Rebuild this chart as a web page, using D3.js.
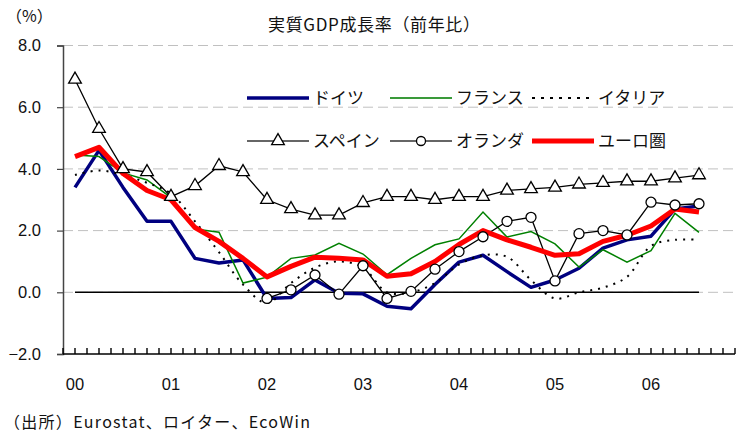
<!DOCTYPE html>
<head>
  <meta charset="utf-8">
  <script src="https://d3js.org/d3.v7.min.js"></script>
  <style>
    body { margin:0; background:#fff; }
    text { font-family: "Noto Sans CJK JP", "Liberation Sans", sans-serif; fill:#111; }
    .num { font-family: "Liberation Sans", Arial, sans-serif; }
  </style>
</head>
<body>
<script>
  // quarterly, 2000Q1 .. 2006Q3
  var yearLabels = ["00", "01", "02", "03", "04", "05", "06"];
  var yTicks = [-2, 0, 2, 4, 6, 8];

  var germany = [3.4, 4.6, 3.4, 2.3, 2.3, 1.1, 0.95, 1.05, -0.2, -0.17, 0.4, -0.03, -0.05, -0.45, -0.53, 0.25, 0.98, 1.2, 0.67, 0.16, 0.4, 0.78, 1.43, 1.7, 1.82, 2.7, 2.8];
  var france = [4.45, 4.4, 3.87, 3.64, 3.07, 2.05, 1.95, 0.3, 0.49, 1.1, 1.21, 1.59, 1.24, 0.57, 1.1, 1.54, 1.73, 2.6, 1.79, 1.97, 1.57, 0.82, 1.38, 0.98, 1.35, 2.56, 1.94];
  var italy = [3.8, 3.95, 3.8, 3.55, 3.2, 2.3, 1.3, 0.25, -0.35, 0.3, 0.8, 1.0, 0.8, 0.0, 0.0, 0.3, 0.9, 1.2, 1.15, 0.4, -0.2, 0.0, 0.15, 0.5, 1.5, 1.7, 1.7];
  var spain = [6.9, 5.3, 4.0, 3.9, 3.1, 3.45, 4.1, 3.9, 3.0, 2.7, 2.5, 2.5, 2.9, 3.1, 3.1, 3.0, 3.1, 3.1, 3.3, 3.35, 3.4, 3.5, 3.55, 3.6, 3.6, 3.7, 3.8];
  var netherlands = [null, null, null, null, null, null, null, null, -0.2, 0.08, 0.56, -0.06, 0.86, -0.2, 0.03, 0.75, 1.32, 1.8, 2.3, 2.43, 0.37, 1.9, 2.0, 1.86, 2.92, 2.83, 2.87];
  var euro = [4.4, 4.7, 3.85, 3.3, 3.0, 2.1, 1.65, 1.1, 0.5, 0.84, 1.14, 1.1, 1.05, 0.52, 0.6, 1.0, 1.55, 2.0, 1.7, 1.46, 1.2, 1.25, 1.65, 1.85, 2.15, 2.7, 2.6];

  var width = 736, height = 434;
  var svg = d3.select("body").append("svg")
    .attr("width", width).attr("height", height);

  var x = d3.scaleLinear().domain([-0.5, 27.5]).range([63, 735]);
  var y = d3.scaleLinear().domain([-2, 8]).range([354, 45.5]);

  // gridlines
  svg.selectAll(".grid").data(yTicks.slice(1)).enter().append("line")
    .attr("x1", 63).attr("x2", 735)
    .attr("y1", function(d) { return y(d); }).attr("y2", function(d) { return y(d); })
    .attr("stroke", "#c0c0c0").attr("stroke-width", 1).attr("stroke-dasharray", "10,5");

  // zero line across the data
  svg.append("line")
    .attr("x1", x(0)).attr("x2", x(26))
    .attr("y1", y(0)).attr("y2", y(0))
    .attr("stroke", "#000").attr("stroke-width", 1.5);

  // y axis
  var yAxis = d3.axisLeft(y).tickValues(yTicks).tickSize(6)
    .tickFormat(function(d) { return d < 0 ? "\u2212" + Math.abs(d).toFixed(1) : d.toFixed(1); });
  var ya = svg.append("g").attr("transform", "translate(63,0)").call(yAxis);
  ya.select(".domain").attr("stroke", "#444").attr("stroke-width", 1.5);
  ya.selectAll(".tick line").attr("stroke", "#444").attr("stroke-width", 1.2);
  ya.selectAll("text").attr("class", "num").attr("x", -22)
    .style("font-size", "16.5px").style("font-family", "'Liberation Sans', Arial, sans-serif").attr("fill", "#111");

  // x axis: tick every half quarter (pointing up), labels at Q1
  var xTicks = d3.range(-0.5, 27.51, 0.5);
  svg.append("line")
    .attr("x1", 63).attr("x2", 735).attr("y1", y(-2)).attr("y2", y(-2))
    .attr("stroke", "#000").attr("stroke-width", 1.5);
  svg.selectAll(".xt").data(xTicks).enter().append("line")
    .attr("x1", function(d) { return x(d); })
    .attr("x2", function(d) { return x(d); })
    .attr("y1", y(-2)).attr("y2", y(-2) - 6)
    .attr("stroke", "#000").attr("stroke-width", 1.4);

  svg.selectAll(".xl").data(yearLabels).enter().append("text")
    .attr("class", "num")
    .attr("x", function(d, i) { return x(i * 4); })
    .attr("y", 390)
    .attr("text-anchor", "middle")
    .style("font-size", "16.5px")
    .text(function(d) { return d; });

  // series lines
  function pts(arr) {
    return arr.map(function(v, i) { return [i, v]; });
  }
  var line = d3.line()
    .defined(function(d) { return d[1] != null; })
    .x(function(d) { return x(d[0]); })
    .y(function(d) { return y(d[1]); });
  var smooth = d3.line()
    .curve(d3.curveCatmullRom.alpha(0.5))
    .x(function(d) { return x(d[0]); })
    .y(function(d) { return y(d[1]); });

  svg.append("path").attr("d", line(pts(germany)))
    .attr("fill", "none").attr("stroke", "#000080").attr("stroke-width", 3.5).attr("stroke-linejoin", "round");
  svg.append("path").attr("d", line(pts(france)))
    .attr("fill", "none").attr("stroke", "#008000").attr("stroke-width", 1.5);
  svg.append("path").attr("d", smooth(pts(italy)))
    .attr("fill", "none").attr("stroke", "#000").attr("stroke-width", 2).attr("stroke-dasharray", "2,6");
  svg.append("path").attr("d", line(pts(spain)))
    .attr("fill", "none").attr("stroke", "#000").attr("stroke-width", 1.3);
  svg.append("path").attr("d", line(pts(netherlands)))
    .attr("fill", "none").attr("stroke", "#000").attr("stroke-width", 1.3);
  svg.append("path").attr("d", line(pts(euro)))
    .attr("fill", "none").attr("stroke", "#ff0000").attr("stroke-width", 5).attr("stroke-linejoin", "round");

  // markers
  var tri = d3.symbol().type(d3.symbolTriangle).size(70);
  svg.selectAll(".tri").data(pts(spain)).enter().append("path")
    .attr("d", tri)
    .attr("transform", function(d) { return "translate(" + x(d[0]) + "," + y(d[1]) + ")"; })
    .attr("fill", "#fff").attr("stroke", "#000").attr("stroke-width", 1.3);
  svg.selectAll(".circ").data(pts(netherlands).filter(function(d) { return d[1] != null; })).enter().append("circle")
    .attr("cx", function(d) { return x(d[0]); })
    .attr("cy", function(d) { return y(d[1]); })
    .attr("r", 5)
    .attr("fill", "#fff").attr("stroke", "#000").attr("stroke-width", 1.3);

  // legend
  var legend = [
    { name: "ドイツ", x: 247, y: 98, color: "#000080", w: 3.5 },
    { name: "フランス", x: 390, y: 98, color: "#3a9a3a", w: 2 },
    { name: "イタリア", x: 532, y: 98, color: "#000", w: 2, dash: "3,6" },
    { name: "スペイン", x: 247, y: 141, color: "#333", w: 1.5, marker: "tri" },
    { name: "オランダ", x: 390, y: 141, color: "#333", w: 1.5, marker: "circ" },
    { name: "ユーロ圏", x: 532, y: 141, color: "#ff0000", w: 5 }
  ];
  legend.forEach(function(l) {
    var len = 62;
    svg.append("line")
      .attr("x1", l.x).attr("x2", l.x + len).attr("y1", l.y).attr("y2", l.y)
      .attr("stroke", l.color).attr("stroke-width", l.w)
      .attr("stroke-dasharray", l.dash || null);
    if (l.marker == "tri") {
      svg.append("path").attr("d", tri)
        .attr("transform", "translate(" + (l.x + len / 2) + "," + l.y + ")")
        .attr("fill", "#fff").attr("stroke", "#000").attr("stroke-width", 1.3);
    } else if (l.marker == "circ") {
      svg.append("circle").attr("cx", l.x + len / 2).attr("cy", l.y).attr("r", 4.5)
        .attr("fill", "#fff").attr("stroke", "#000").attr("stroke-width", 1.3);
    }
    svg.append("text")
      .attr("x", l.x + len + 4).attr("y", l.y + 6)
      .style("font-size", "17px")
      .text(l.name);
  });

  // titles
  svg.append("text").attr("x", 268).attr("y", 31)
    .attr("textLength", 212).attr("lengthAdjust", "spacing")
    .style("font-size", "17px").text("実質GDP成長率（前年比）");
  svg.append("text").attr("x", 6).attr("y", 22)
    .style("font-size", "16px").text("（%）");
  svg.append("text").attr("x", 4).attr("y", 428)
    .attr("textLength", 306).attr("lengthAdjust", "spacing")
    .style("font-size", "16px").text("（出所）Eurostat、ロイター、EcoWin");
</script>
</body>
